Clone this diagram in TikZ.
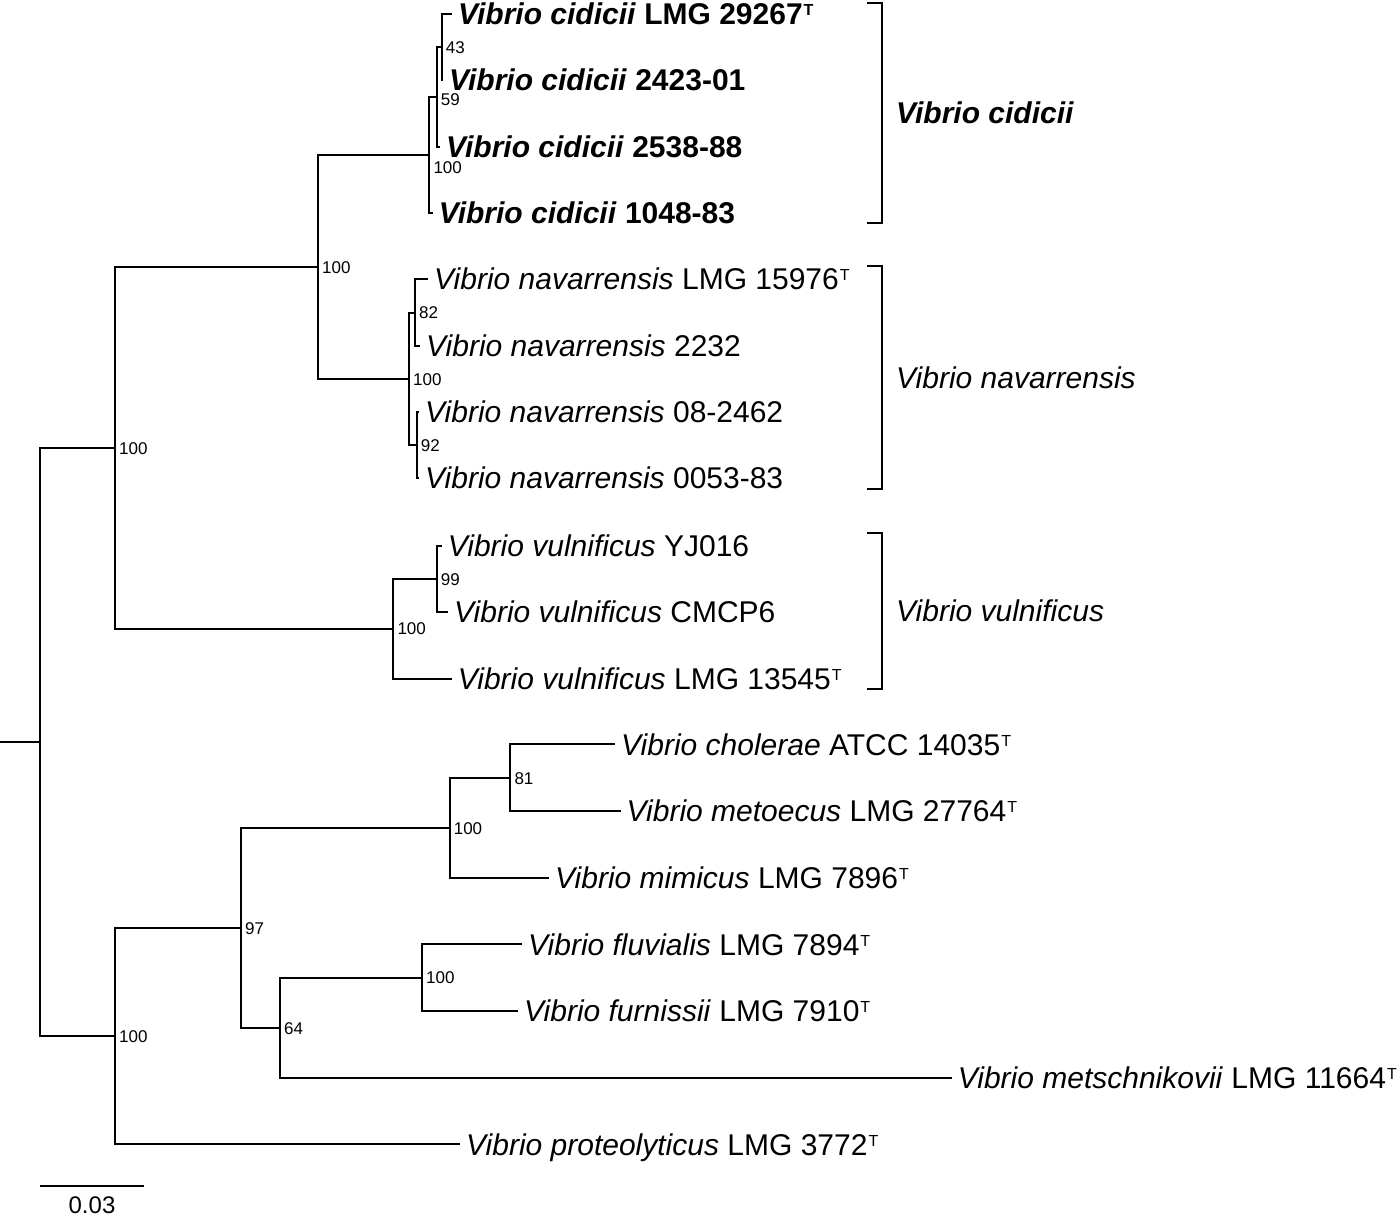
\documentclass[tikz,border=0pt]{standalone}
\usepackage{fontspec}
\setmainfont{Liberation Sans}
\newcommand{\typeT}{\kern1pt\raisebox{9pt}{\fontsize{16}{16}\selectfont T}}

\begin{document}
\begin{tikzpicture}[x=1pt, y=-1pt]

      \useasboundingbox (0,0) rectangle (1398,1216);

      \tikzstyle{Br}=[line width=2pt];
      \tikzstyle{Leaf}=[anchor=west, inner xsep=6pt, inner ysep=0pt, text height=21.5pt, text depth=0pt, font=\fontsize{30}{33}\selectfont];
      \tikzstyle{Boot}=[anchor=west, inner sep=0pt, xshift=4pt, text height=12pt, text depth=0pt, font=\fontsize{17}{19}\selectfont];
      \tikzstyle{Clade}=[anchor=west, inner sep=0pt, text height=21.5pt, text depth=0pt, font=\fontsize{30}{33}\selectfont];

        % inner nodes
        \coordinate (Root) at (40,742);
        \coordinate (RootStub) at (0,742);
        \coordinate (UpA) at (115,448);
        \coordinate (UpB) at (318,267);
        \coordinate (CidC) at (429.3,155);
        \coordinate (Cid59) at (436.7,96.7);
        \coordinate (Cid43) at (441.7,47);
        \coordinate (NavN) at (409,379);
        \coordinate (Nav82) at (415,312.5);
        \coordinate (Nav92) at (416.7,445);
        \coordinate (VulV) at (393.3,628.5);
        \coordinate (Vul99) at (436.7,579);
        \coordinate (LowL) at (115,1036);
        \coordinate (Low97) at (241,928);
        \coordinate (ChoM) at (449.6,828);
        \coordinate (Cho81) at (510.3,778);
        \coordinate (Low64) at (280,1028);
        \coordinate (FluF) at (422,977.7);

        % leaves
        \node[Leaf](CidLMG) at (452,14) {\bfseries\textit{Vibrio cidicii} LMG 29267\typeT};
        \node[Leaf](CidA) at (443,80) {\bfseries\textit{Vibrio cidicii} 2423-01};
        \node[Leaf](CidB) at (440,147) {\bfseries\textit{Vibrio cidicii} 2538-88};
        \node[Leaf](CidD) at (432.7,213) {\bfseries\textit{Vibrio cidicii} 1048-83};
        \node[Leaf](NavLMG) at (428,279) {\textit{Vibrio navarrensis} LMG 15976\typeT};
        \node[Leaf](NavA) at (420,346) {\textit{Vibrio navarrensis} 2232};
        \node[Leaf](NavB) at (419,412) {\textit{Vibrio navarrensis} 08-2462};
        \node[Leaf](NavC) at (419,478) {\textit{Vibrio navarrensis} 0053-83};
        \node[Leaf](VulA) at (441.7,546) {\textit{Vibrio vulnificus} YJ016};
        \node[Leaf](VulB) at (448,612) {\textit{Vibrio vulnificus} CMCP6};
        \node[Leaf](VulLMG) at (451.7,679) {\textit{Vibrio vulnificus} LMG 13545\typeT};
        \node[Leaf](Cho) at (615,744.3) {\textit{Vibrio cholerae} ATCC 14035\typeT};
        \node[Leaf](Met) at (620.5,811) {\textit{Vibrio metoecus} LMG 27764\typeT};
        \node[Leaf](Mim) at (549,877.7) {\textit{Vibrio mimicus} LMG 7896\typeT};
        \node[Leaf](Flu) at (522,944.3) {\textit{Vibrio fluvialis} LMG 7894\typeT};
        \node[Leaf](Fur) at (518,1011) {\textit{Vibrio furnissii} LMG 7910\typeT};
        \node[Leaf](Mts) at (951.7,1077.7) {\textit{Vibrio metschnikovii} LMG 11664\typeT};
        \node[Leaf](Pro) at (460,1144.3) {\textit{Vibrio proteolyticus} LMG 3772\typeT};

        % branches
        \draw[Br] (Root) -- (RootStub);
        \draw[Br] (Root) |- (UpA);
        \draw[Br] (Root) |- (LowL);
        \draw[Br] (UpA) |- (UpB);
        \draw[Br] (UpA) |- (VulV);
        \draw[Br] (UpB) |- (CidC);
        \draw[Br] (UpB) |- (NavN);
        \draw[Br] (CidC) |- (Cid59);
        \draw[Br] (CidC) |- (CidD.west);
        \draw[Br] (Cid59) |- (Cid43);
        \draw[Br] (Cid59) |- (CidB.west);
        \draw[Br] (Cid43) |- (CidLMG.west);
        \draw[Br] (Cid43) |- (CidA.west);
        \draw[Br] (NavN) |- (Nav82);
        \draw[Br] (NavN) |- (Nav92);
        \draw[Br] (Nav82) |- (NavLMG.west);
        \draw[Br] (Nav82) |- (NavA.west);
        \draw[Br] (Nav92) |- (NavB.west);
        \draw[Br] (Nav92) |- (NavC.west);
        \draw[Br] (VulV) |- (Vul99);
        \draw[Br] (VulV) |- (VulLMG.west);
        \draw[Br] (Vul99) |- (VulA.west);
        \draw[Br] (Vul99) |- (VulB.west);
        \draw[Br] (LowL) |- (Low97);
        \draw[Br] (LowL) |- (Pro.west);
        \draw[Br] (Low97) |- (ChoM);
        \draw[Br] (Low97) |- (Low64);
        \draw[Br] (ChoM) |- (Cho81);
        \draw[Br] (ChoM) |- (Mim.west);
        \draw[Br] (Cho81) |- (Cho.west);
        \draw[Br] (Cho81) |- (Met.west);
        \draw[Br] (Low64) |- (FluF);
        \draw[Br] (Low64) |- (Mts.west);
        \draw[Br] (FluF) |- (Flu.west);
        \draw[Br] (FluF) |- (Fur.west);

        % bootstrap values
        \node[Boot] at (Cid43) {43};
        \node[Boot, yshift=-3pt] at (Cid59) {59};
        \node[Boot, yshift=-12pt] at (CidC) {100};
        \node[Boot] at (UpB) {100};
        \node[Boot] at (Nav82) {82};
        \node[Boot] at (NavN) {100};
        \node[Boot] at (Nav92) {92};
        \node[Boot] at (Vul99) {99};
        \node[Boot] at (VulV) {100};
        \node[Boot] at (UpA) {100};
        \node[Boot] at (Cho81) {81};
        \node[Boot] at (ChoM) {100};
        \node[Boot] at (Low97) {97};
        \node[Boot] at (FluF) {100};
        \node[Boot] at (Low64) {64};
        \node[Boot] at (LowL) {100};

        % species brackets
        \draw[Br] (867,3) -| (882,223) -- (867,223);
        \draw[Br] (867,266) -| (882,489) -- (867,489);
        \draw[Br] (867,533) -| (882,689) -- (867,689);
        \node[Clade](CladeCid) at (896,113) {\bfseries\itshape Vibrio cidicii};
        \node[Clade](CladeNav) at (896,378) {\itshape Vibrio navarrensis};
        \node[Clade](CladeVul) at (896,611) {\itshape Vibrio vulnificus};

        % scale bar
        \coordinate (BarL) at (40,1185.7);
        \coordinate (BarR) at (144,1185.7);
        \draw[Br] (BarL) -- (BarR);
        \node[anchor=base, inner sep=0pt, font=\fontsize{24}{26}\selectfont](BarLab) at (92,1213.5) {0.03};

    \end{tikzpicture}
\end{document}
